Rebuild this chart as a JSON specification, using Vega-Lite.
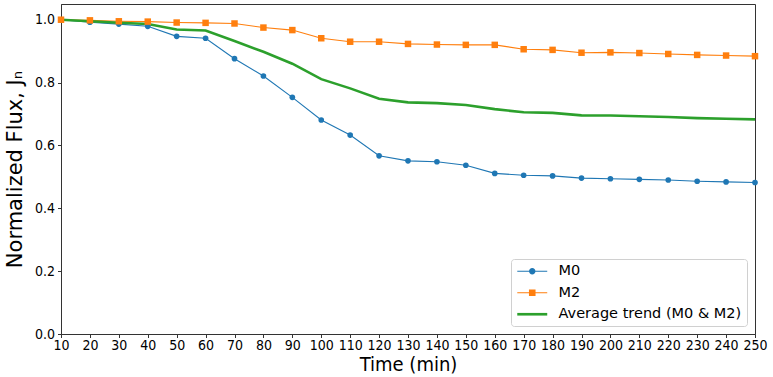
{
  "$schema": "https://vega.github.io/schema/vega-lite/v6.json",
  "width": 694,
  "height": 330,
  "autosize": "none",
  "padding": {"left": 61, "top": 4, "right": 18, "bottom": 43},
  "background": "white",
  "config": {
    "font": "DejaVu Sans",
    "view": {"stroke": "#333", "strokeWidth": 1},
    "axis": {
      "grid": false,
      "domainColor": "#333",
      "tickColor": "#333",
      "tickSize": 3.5,
      "labelFontSize": 14,
      "labelColor": "#000",
      "titleFontSize": 20,
      "titleFontWeight": "normal",
      "titleColor": "#000",
      "labelFont": "DejaVu Sans Condensed",
      "titleFont": "DejaVu Sans Condensed"
    }
  },
  "data": {
    "values": [
      {"time": 10, "series": "M0", "flux": 1.000},
      {"time": 20, "series": "M0", "flux": 0.992},
      {"time": 30, "series": "M0", "flux": 0.986},
      {"time": 40, "series": "M0", "flux": 0.979},
      {"time": 50, "series": "M0", "flux": 0.947},
      {"time": 60, "series": "M0", "flux": 0.941},
      {"time": 70, "series": "M0", "flux": 0.876},
      {"time": 80, "series": "M0", "flux": 0.821},
      {"time": 90, "series": "M0", "flux": 0.753},
      {"time": 100, "series": "M0", "flux": 0.681},
      {"time": 110, "series": "M0", "flux": 0.633},
      {"time": 120, "series": "M0", "flux": 0.567},
      {"time": 130, "series": "M0", "flux": 0.551},
      {"time": 140, "series": "M0", "flux": 0.548},
      {"time": 150, "series": "M0", "flux": 0.537},
      {"time": 160, "series": "M0", "flux": 0.511},
      {"time": 170, "series": "M0", "flux": 0.505},
      {"time": 180, "series": "M0", "flux": 0.503},
      {"time": 190, "series": "M0", "flux": 0.496},
      {"time": 200, "series": "M0", "flux": 0.494},
      {"time": 210, "series": "M0", "flux": 0.492},
      {"time": 220, "series": "M0", "flux": 0.490},
      {"time": 230, "series": "M0", "flux": 0.486},
      {"time": 240, "series": "M0", "flux": 0.484},
      {"time": 250, "series": "M0", "flux": 0.482},
      {"time": 10, "series": "M2", "flux": 1.000},
      {"time": 20, "series": "M2", "flux": 0.998},
      {"time": 30, "series": "M2", "flux": 0.995},
      {"time": 40, "series": "M2", "flux": 0.994},
      {"time": 50, "series": "M2", "flux": 0.991},
      {"time": 60, "series": "M2", "flux": 0.990},
      {"time": 70, "series": "M2", "flux": 0.988},
      {"time": 80, "series": "M2", "flux": 0.975},
      {"time": 90, "series": "M2", "flux": 0.967},
      {"time": 100, "series": "M2", "flux": 0.941},
      {"time": 110, "series": "M2", "flux": 0.930},
      {"time": 120, "series": "M2", "flux": 0.930},
      {"time": 130, "series": "M2", "flux": 0.923},
      {"time": 140, "series": "M2", "flux": 0.921},
      {"time": 150, "series": "M2", "flux": 0.920},
      {"time": 160, "series": "M2", "flux": 0.920},
      {"time": 170, "series": "M2", "flux": 0.906},
      {"time": 180, "series": "M2", "flux": 0.904},
      {"time": 190, "series": "M2", "flux": 0.895},
      {"time": 200, "series": "M2", "flux": 0.896},
      {"time": 210, "series": "M2", "flux": 0.894},
      {"time": 220, "series": "M2", "flux": 0.891},
      {"time": 230, "series": "M2", "flux": 0.888},
      {"time": 240, "series": "M2", "flux": 0.886},
      {"time": 250, "series": "M2", "flux": 0.884},
      {"time": 10, "series": "Average trend (M0 & M2)", "flux": 1.000},
      {"time": 20, "series": "Average trend (M0 & M2)", "flux": 0.995},
      {"time": 30, "series": "Average trend (M0 & M2)", "flux": 0.9905},
      {"time": 40, "series": "Average trend (M0 & M2)", "flux": 0.9865},
      {"time": 50, "series": "Average trend (M0 & M2)", "flux": 0.969},
      {"time": 60, "series": "Average trend (M0 & M2)", "flux": 0.9655},
      {"time": 70, "series": "Average trend (M0 & M2)", "flux": 0.932},
      {"time": 80, "series": "Average trend (M0 & M2)", "flux": 0.898},
      {"time": 90, "series": "Average trend (M0 & M2)", "flux": 0.860},
      {"time": 100, "series": "Average trend (M0 & M2)", "flux": 0.811},
      {"time": 110, "series": "Average trend (M0 & M2)", "flux": 0.7815},
      {"time": 120, "series": "Average trend (M0 & M2)", "flux": 0.7485},
      {"time": 130, "series": "Average trend (M0 & M2)", "flux": 0.737},
      {"time": 140, "series": "Average trend (M0 & M2)", "flux": 0.7345},
      {"time": 150, "series": "Average trend (M0 & M2)", "flux": 0.7285},
      {"time": 160, "series": "Average trend (M0 & M2)", "flux": 0.7155},
      {"time": 170, "series": "Average trend (M0 & M2)", "flux": 0.7055},
      {"time": 180, "series": "Average trend (M0 & M2)", "flux": 0.7035},
      {"time": 190, "series": "Average trend (M0 & M2)", "flux": 0.6955},
      {"time": 200, "series": "Average trend (M0 & M2)", "flux": 0.695},
      {"time": 210, "series": "Average trend (M0 & M2)", "flux": 0.693},
      {"time": 220, "series": "Average trend (M0 & M2)", "flux": 0.6905},
      {"time": 230, "series": "Average trend (M0 & M2)", "flux": 0.687},
      {"time": 240, "series": "Average trend (M0 & M2)", "flux": 0.685},
      {"time": 250, "series": "Average trend (M0 & M2)", "flux": 0.683}
    ]
  },
  "encoding": {
    "x": {
      "field": "time",
      "type": "quantitative",
      "scale": {"domain": [10, 250], "nice": false, "zero": false},
      "axis": {
        "title": "Time (min)",
        "values": [10, 20, 30, 40, 50, 60, 70, 80, 90, 100, 110, 120, 130, 140, 150, 160, 170, 180, 190, 200, 210, 220, 230, 240, 250],
        "labelOverlap": false,
        "labelPadding": 1,
        "labelFlush": false,
        "titlePadding": 2
      }
    },
    "y": {
      "field": "flux",
      "type": "quantitative",
      "scale": {"domain": [0, 1.05], "nice": false},
      "axis": {
        "title": "Normalized Flux, Jₙ",
        "titleFont": "DejaVu Sans",
        "titleFontSize": 21,
        "values": [0, 0.2, 0.4, 0.6, 0.8, 1.0],
        "format": ".1f",
        "labelPadding": 3,
        "titlePadding": 9
      }
    }
  },
  "layer": [
    {
      "transform": [{"filter": "datum.series === 'M0'"}],
      "mark": {"type": "line", "strokeWidth": 1.1, "color": "#1f77b4"}
    },
    {
      "transform": [{"filter": "datum.series === 'M2'"}],
      "mark": {"type": "line", "strokeWidth": 1.1, "color": "#ff7f0e"}
    },
    {
      "transform": [{"filter": "datum.series === 'Average trend (M0 & M2)'"}],
      "mark": {"type": "line", "strokeWidth": 2.6, "color": "#2ca02c"}
    },
    {
      "transform": [{"filter": "datum.series === 'M0'"}],
      "mark": {"type": "point", "shape": "circle", "filled": true, "opacity": 1, "size": 32, "color": "#1f77b4"}
    },
    {
      "transform": [{"filter": "datum.series === 'M2'"}],
      "mark": {"type": "point", "shape": "square", "filled": true, "opacity": 1, "size": 42, "color": "#ff7f0e"}
    },
    {
      "transform": [{"filter": "datum.time === 10"}],
      "mark": {"type": "point", "filled": true, "size": 196, "opacity": 0},
      "encoding": {
        "color": {
          "field": "series",
          "type": "nominal",
          "scale": {
            "domain": ["M0", "M2", "Average trend (M0 & M2)"],
            "range": ["#1f77b4", "#ff7f0e", "#2ca02c"]
          },
          "legend": {
            "title": null,
            "orient": "bottom-right",
            "offset": 8,
            "fillColor": "white",
            "strokeColor": "#d0d0d0",
            "cornerRadius": 3,
            "padding": 5,
            "labelFontSize": 14.5,
            "labelFont": "DejaVu Sans",
            "labelColor": "#000",
            "labelLimit": 400,
            "labelOffset": 19,
            "symbolOffset": 9,
            "symbolSize": 196,
            "rowPadding": 6.5,
            "symbolStrokeWidth": 0,
            "symbolOpacity": 1,
            "encode": {"symbols": {"update": {"opacity": {"value": 1}, "fillOpacity": {"value": 1}}}}
          }
        },
        "shape": {
          "field": "series",
          "type": "nominal",
          "scale": {
            "domain": ["M0", "M2", "Average trend (M0 & M2)"],
            "range": [
              "M-2.14,-0.075L2.14,-0.075L2.14,0.075L-2.14,0.075Z M0.46,0A0.46,0.46,0,1,1,-0.46,0A0.46,0.46,0,1,1,0.46,0Z",
              "M-2.14,-0.075L2.14,-0.075L2.14,0.075L-2.14,0.075Z M-0.47,-0.47L0.47,-0.47L0.47,0.47L-0.47,0.47Z",
              "M-2.14,-0.19L2.14,-0.19L2.14,0.19L-2.14,0.19Z"
            ]
          },
          "legend": {"title": null}
        }
      }
    }
  ]
}
